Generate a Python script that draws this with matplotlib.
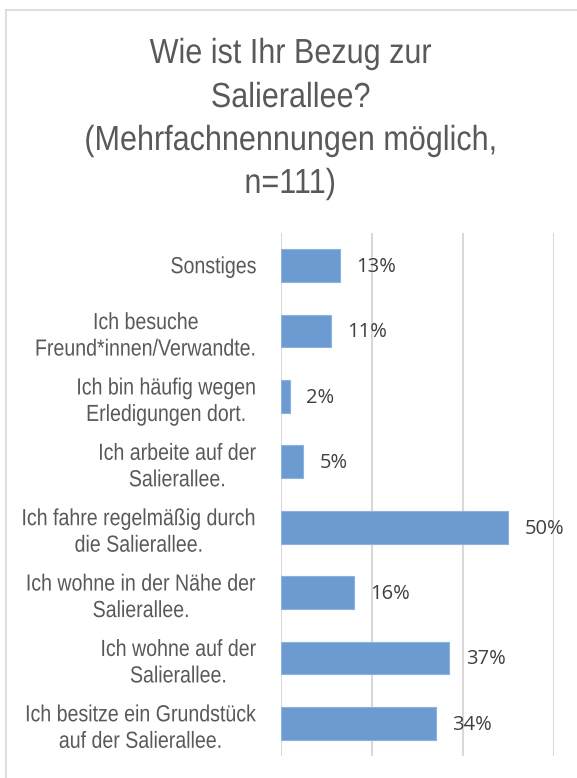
import matplotlib
matplotlib.use("Agg")
import matplotlib.pyplot as plt
from matplotlib.lines import Line2D
from matplotlib.patheffects import AbstractPathEffect
from matplotlib.transforms import Affine2D

# data, bottom to top as drawn
categories = [
    "Ich besitze ein Grundstück\nauf der Salierallee.",
    "Ich wohne auf der\nSalierallee.",
    "Ich wohne in der Nähe der\nSalierallee.",
    "Ich fahre regelmäßig durch\ndie Salierallee.",
    "Ich arbeite auf der\nSalierallee.",
    "Ich bin häufig wegen\nErledigungen dort.",
    "Ich besuche\nFreund*innen/Verwandte.",
    "Sonstiges",
]
values = [34, 37, 16, 50, 5, 2, 11, 13]
xticks = [0, 20, 40, 60]

title_lines = ["Wie ist Ihr Bezug zur", "Salierallee?",
               "(Mehrfachnennungen möglich,", "n=111)"]

grey_text = "#595959"
bar_color = "#6c9bd2"
grid_color = "#d9d9d9"
font = "Liberation Sans"


class Stretch(AbstractPathEffect):
    """make glyphs taller around their baseline (arial narrow look)"""

    def __init__(self, sy):
        super().__init__()
        self.sy = sy

    def draw_path(self, renderer, gc, tpath, affine, rgbFace=None):
        renderer.draw_path(gc, tpath, Affine2D().scale(1, self.sy) + affine, rgbFace)


fig = plt.figure(figsize=(5.77, 7.78), dpi=100)
fig.patch.set_facecolor("white")

# chart frame (only top and left edges are visible in the crop)
W, H = 577, 778
fig.add_artist(Line2D([6 / W, 6 / W], [0, 1 - 10 / H], transform=fig.transFigure,
                      color=grid_color, lw=1.2))
fig.add_artist(Line2D([6 / W, 1], [1 - 10 / H, 1 - 10 / H], transform=fig.transFigure,
                      color=grid_color, lw=1.2))

for line, base in zip(title_lines, [63, 107, 150, 193]):
    fig.text(0.503, 1 - base / H, line, ha="center", va="baseline",
             fontsize=22, color=grey_text, family=font,
             path_effects=[Stretch(1.14)])

ax = fig.add_axes([280.7 / W, 1 - 756 / H, (554 - 280.7) / W, (756 - 233) / H])
pos = range(len(categories))
ax.barh(pos, values, height=0.5, color=bar_color, edgecolor="#8db2e0", linewidth=0.8, zorder=3)

for y, v in zip(pos, values):
    ax.annotate(f"{v}%", (v, y), xytext=(12, -1), textcoords="offset points",
                ha="left", va="center", fontsize=14.5, color="#404040",
                family="Open Sans")

ax.set_xlim(0, 60)
ax.set_ylim(-0.5, len(categories) - 0.5)
ax.set_xticks(xticks)
ax.set_xticklabels([])
ax.tick_params(axis="x", length=0)
ax.set_yticks(list(pos))
ax.set_yticklabels(categories, fontsize=14.1, color=grey_text, family=font,
                   multialignment="center", linespacing=1.5)
ax.tick_params(axis="y", length=0, pad=17)
for lab in ax.get_yticklabels():
    lab.set_path_effects([Stretch(1.19)])
ax.grid(axis="x", color=grid_color, linewidth=1.5, zorder=0)
for s in ax.spines.values():
    s.set_visible(False)

fig.savefig("out.png", dpi=100)
